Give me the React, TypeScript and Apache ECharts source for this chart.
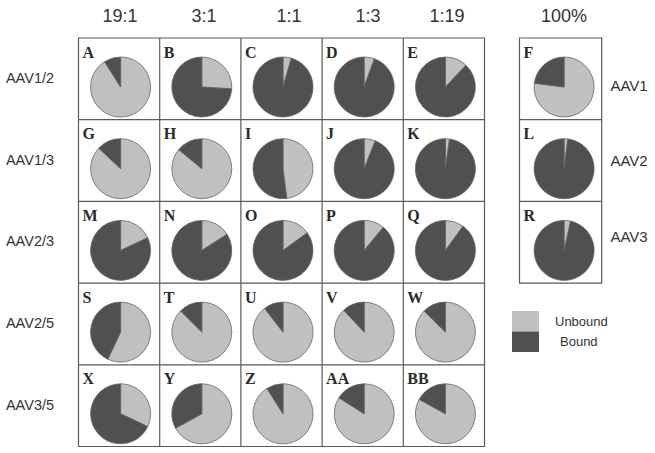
import React, { useEffect, useRef } from "react";
import * as echarts from "echarts";

const ratios = ["19:1", "3:1", "1:1", "1:3", "1:19"];
const rowLabels = ["AAV1/2", "AAV1/3", "AAV2/3", "AAV2/5", "AAV3/5"];
const panelLetters = [
  ["A", "B", "C", "D", "E"],
  ["G", "H", "I", "J", "K"],
  ["M", "N", "O", "P", "Q"],
  ["S", "T", "U", "V", "W"],
  ["X", "Y", "Z", "AA", "BB"],
];
// percent unbound per panel (rest is bound)
const unboundRow1 = [91, 26, 4.5, 5.5, 12];
const unboundRow2 = [87, 86, 48, 6, 2.2];
const unboundRow3 = [18, 16, 15, 11, 10];
const unboundRow4 = [57, 87.5, 89.5, 88, 87.5];
const unboundRow5 = [32, 67, 91, 84, 83];
const unboundRows = [unboundRow1, unboundRow2, unboundRow3, unboundRow4, unboundRow5];

const singleHeader = "100%";
const singleLabels = ["AAV1", "AAV2", "AAV3"];
const singleLetters = ["F", "L", "R"];
const singleUnbound = [77, 2, 3.5];

const legendNames = ["Unbound", "Bound"];

// layout (pixel positions of header labels)
const headerX = [120, 204, 289, 368, 447];
const singleHeaderX = 564;
const singleLabelY = [85, 160.5, 236];

const UNBOUND_COLOR = "#c0c0c0";
const BOUND_COLOR = "#505050";
const LINE_COLOR = "#5a5a5a";
const SANS = "'Liberation Sans', Arial, sans-serif";

export default function App() {
  const ref = useRef<HTMLDivElement>(null);
  useEffect(() => {
    if (!ref.current) return;
    const chart = echarts.init(ref.current, null, { renderer: "svg" });

    const gridLeft = 78.5;
    const gridTop = 38;
    const cellW = 81.2;
    const cellH = 81.7;
    const boxLeft = 519.5;
    const radius = 30;

    const series: any[] = [];
    const graphics: any[] = [];

    const makePie = (cx: number, cy: number, unbound: number, id: string) => ({
      type: "pie",
      id,
      center: [cx, cy],
      radius: radius,
      startAngle: 90,
      clockwise: true,
      silent: true,
      label: { show: false },
      labelLine: { show: false },
      emphasis: { disabled: true },
      itemStyle: { borderColor: "#666", borderWidth: 0.8 },
      data: [
        { name: legendNames[0], value: unbound, itemStyle: { color: UNBOUND_COLOR } },
        { name: legendNames[1], value: 100 - unbound, itemStyle: { color: BOUND_COLOR } },
      ],
    });

    unboundRows.forEach((row, i) => {
      row.forEach((u, j) => {
        const cx = gridLeft + cellW * (j + 0.5) + 1.5;
        const cy = gridTop + cellH * i + 49;
        series.push(makePie(cx, cy, u, `p${i}_${j}`));
        graphics.push({
          type: "text",
          left: gridLeft + cellW * j + 4,
          top: gridTop + cellH * i + 6,
          style: {
            text: panelLetters[i][j],
            font: "bold 16px 'Liberation Serif', serif",
            fill: "#2a2a2a",
          },
        });
      });
      graphics.push({
        type: "text",
        x: 30,
        y: gridTop + cellH * (i + 0.5) - 1,
        style: {
          text: rowLabels[i],
          font: `14.5px ${SANS}`,
          fill: "#333",
          align: "center",
          verticalAlign: "middle",
        },
      });
    });

    ratios.forEach((r, j) => {
      graphics.push({
        type: "text",
        x: headerX[j],
        y: 16,
        style: {
          text: r,
          font: `18px ${SANS}`,
          fill: "#333",
          align: "center",
          verticalAlign: "middle",
        },
      });
    });
    graphics.push({
      type: "text",
      x: singleHeaderX,
      y: 16,
      style: {
        text: singleHeader,
        font: `18px ${SANS}`,
        fill: "#333",
        align: "center",
        verticalAlign: "middle",
      },
    });

    singleUnbound.forEach((u, i) => {
      const cx = boxLeft + cellW / 2 + 4;
      const cy = gridTop + cellH * i + 49;
      series.push(makePie(cx, cy, u, `s${i}`));
      graphics.push({
        type: "text",
        left: boxLeft + 4,
        top: gridTop + cellH * i + 6,
        style: {
          text: singleLetters[i],
          font: "bold 16px 'Liberation Serif', serif",
          fill: "#2a2a2a",
        },
      });
      graphics.push({
        type: "text",
        x: 629,
        y: singleLabelY[i],
        style: {
          text: singleLabels[i],
          font: `15px ${SANS}`,
          fill: "#333",
          align: "center",
          verticalAlign: "middle",
        },
      });
    });

    // main grid lines
    const gw = cellW * 5;
    const gh = cellH * 5;
    graphics.push({
      type: "rect",
      shape: { x: gridLeft, y: gridTop, width: gw, height: gh },
      style: { fill: "none", stroke: LINE_COLOR, lineWidth: 1.2 },
      silent: true,
    });
    for (let k = 1; k < 5; k++) {
      graphics.push({
        type: "line",
        shape: { x1: gridLeft + cellW * k, y1: gridTop, x2: gridLeft + cellW * k, y2: gridTop + gh },
        style: { stroke: LINE_COLOR, lineWidth: 1.2 },
        silent: true,
      });
      graphics.push({
        type: "line",
        shape: { x1: gridLeft, y1: gridTop + cellH * k, x2: gridLeft + gw, y2: gridTop + cellH * k },
        style: { stroke: LINE_COLOR, lineWidth: 1.2 },
        silent: true,
      });
    }
    // single box
    graphics.push({
      type: "rect",
      shape: { x: boxLeft, y: gridTop, width: cellW + 1, height: cellH * 3 },
      style: { fill: "none", stroke: LINE_COLOR, lineWidth: 1.2 },
      silent: true,
    });
    for (let k = 1; k < 3; k++) {
      graphics.push({
        type: "line",
        shape: { x1: boxLeft, y1: gridTop + cellH * k, x2: boxLeft + cellW + 1, y2: gridTop + cellH * k },
        style: { stroke: LINE_COLOR, lineWidth: 1.2 },
        silent: true,
      });
    }

    chart.setOption({
      animation: false,
      backgroundColor: "#ffffff",
      legend: {
        data: legendNames,
        orient: "vertical",
        left: 512,
        top: 311,
        itemGap: 0,
        itemWidth: 27,
        itemHeight: 20.5,
        icon: "rect",
        selectedMode: false,
        padding: 0,
        itemStyle: { borderWidth: 0 },
        formatter: (name: string) => (name === "Bound" ? `{b|${name}}` : `{a|${name}}`),
        textStyle: {
          fontFamily: SANS,
          fontSize: 13,
          color: "#333",
          rich: {
            a: { fontFamily: SANS, fontSize: 13, color: "#333", padding: [0, 0, 0, 11] },
            b: { fontFamily: SANS, fontSize: 13, color: "#333", padding: [0, 0, 0, 16] },
          },
        },
      },
      series,
      graphic: graphics,
    });
    return () => chart.dispose();
  }, []);
  return (
    <div
      ref={ref}
      style={{ position: "absolute", left: 0, top: 0, width: 655, height: 453, background: "#fff" }}
    />
  );
}
